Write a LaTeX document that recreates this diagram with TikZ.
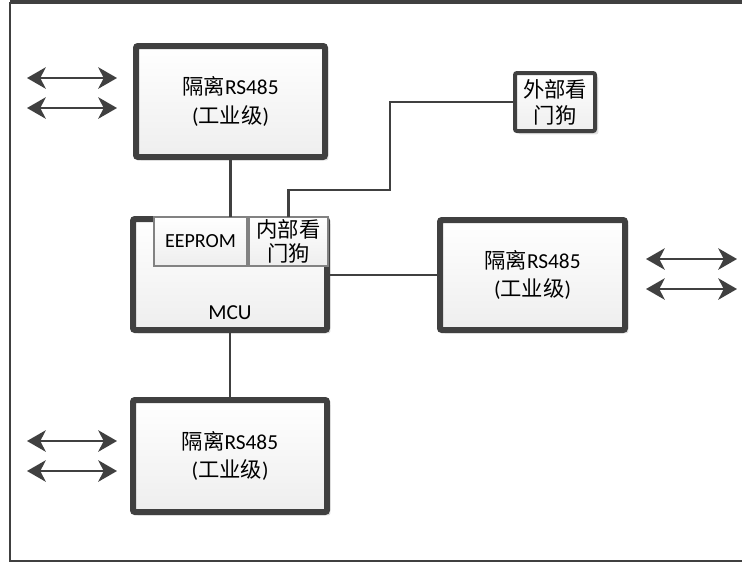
\documentclass[tikz,border=0pt]{standalone}
\usepackage{fontspec}
\setmainfont{Carlito}
\newfontfamily\cjk{Noto Sans CJK SC}
\usetikzlibrary{arrows.meta,shadows}
\definecolor{dk}{RGB}{64,64,64}
\definecolor{thinc}{RGB}{130,130,130}
\definecolor{fillbot}{RGB}{238,238,238}
\begin{document}
\begin{tikzpicture}[x=0.75pt,y=-0.75pt,
  blk/.style={draw=dk, line width=4.5pt, rounded corners=1.5pt,
    top color=white, bottom color=fillbot, inner sep=0pt, outer sep=0pt,
    align=center, font=\fontsize{16}{21.5}\selectfont,
    drop shadow={shadow xshift=2.5pt, shadow yshift=-2.5pt, fill=black, opacity=0.12}},
  subblk/.style={draw=thinc, line width=0.8pt,
    top color=white, bottom color=fillbot, inner sep=0pt, outer sep=0pt,
    align=center, font=\fontsize{16}{18.5}\selectfont},
  conn/.style={draw=dk, line width=1.7pt},
  bidir/.style={draw=dk, line width=1.8pt,
    {Stealth[length=14pt,width=16pt,inset=4pt]}-{Stealth[length=14pt,width=16pt,inset=4pt]}}
]
\useasboundingbox (0,0) rectangle (742,562);
\fill[white] (0,0) rectangle (742,562);
% frame
\draw[dk, line width=1.5pt] (742,561) -- (10,561) -- (10,2);
\draw[dk, line width=2.4pt] (10,2) -- (742,2);

% blocks
\node[blk, minimum width=189*0.75pt, minimum height=111*0.75pt] (tl) at (230.5,101.5)
  {{\cjk 隔离}RS485\\({\cjk 工业级})};
\node[blk, minimum width=194*0.75pt, minimum height=111*0.75pt] (mcu) at (230,274.5) {};
\node[font=\fontsize{16}{18}\selectfont, inner sep=0pt] (mcutxt) at (230,313) {MCU};
\node[subblk, minimum width=93*0.75pt, minimum height=49*0.75pt, font=\fontsize{15}{17}\selectfont] (eeprom) at (200.5,241.5) {EEPROM};
\node[subblk, minimum width=79*0.75pt, minimum height=49*0.75pt] (iwd) at (288.5,241.5)
  {\cjk 内部看\\\cjk 门狗};
\node[blk, minimum width=185*0.75pt, minimum height=110*0.75pt] (rb) at (532.5,275)
  {{\cjk 隔离}RS485\\({\cjk 工业级})};
\node[blk, minimum width=194*0.75pt, minimum height=112*0.75pt] (bb) at (230,456)
  {{\cjk 隔离}RS485\\({\cjk 工业级})};
\node[blk, line width=3pt, minimum width=80*0.75pt, minimum height=58*0.75pt,
  font=\fontsize{16}{19.5}\selectfont] (ewd) at (555,102)
  {\cjk 外部看\\\cjk 门狗};

% connectors
\draw[conn] (tl.south) -- (tl.south |- eeprom.north);
\draw[conn] (mcu.south) -- (bb.north);
\draw[conn] (mcu.east |- rb.west) -- (rb.west);
\coordinate (c1) at (390,190);
\draw[conn] (iwd.north) |- (c1) |- (ewd.west);

% bidirectional arrows
\coordinate (a1l) at (27,78);  \coordinate (a1r) at (117,78);
\coordinate (a2l) at (27,108); \coordinate (a2r) at (117,108);
\coordinate (a3l) at (646,259); \coordinate (a3r) at (737,259);
\coordinate (a4l) at (646,289); \coordinate (a4r) at (737,289);
\coordinate (a5l) at (27,441); \coordinate (a5r) at (117,441);
\coordinate (a6l) at (27,471); \coordinate (a6r) at (117,471);
\draw[bidir] (a1l) -- (a1r);
\draw[bidir] (a2l) -- (a2r);
\draw[bidir] (a3l) -- (a3r);
\draw[bidir] (a4l) -- (a4r);
\draw[bidir] (a5l) -- (a5r);
\draw[bidir] (a6l) -- (a6r);
\end{tikzpicture}
\end{document}
